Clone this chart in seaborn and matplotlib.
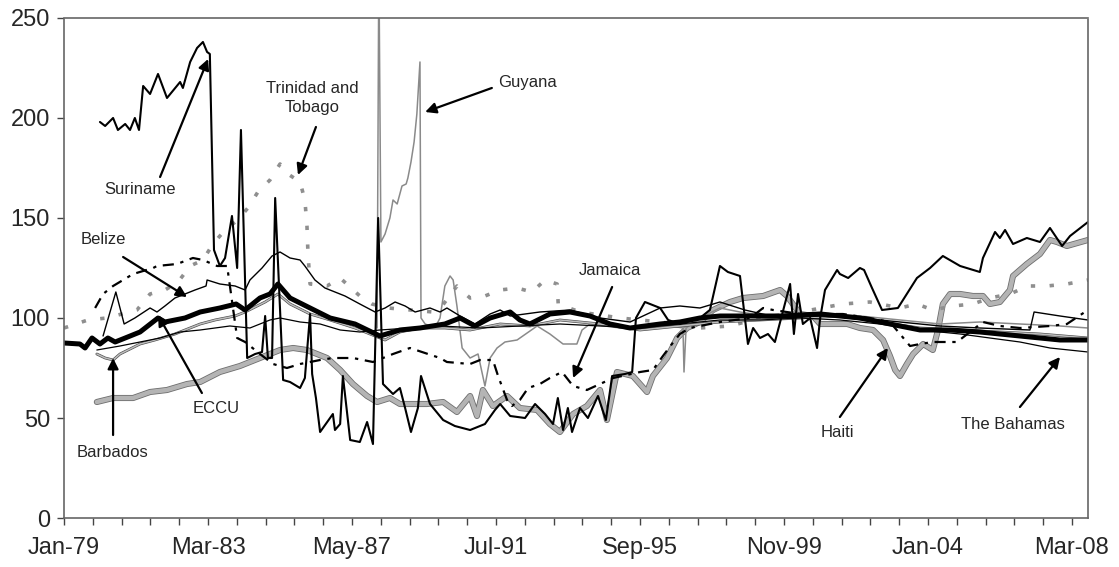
import numpy as np
import pandas as pd
import matplotlib
matplotlib.use('Agg')
import matplotlib.pyplot as plt
import matplotlib.patheffects as pe
import seaborn as sns

# ======================
# podaci (ocitano sa slike), x = godina (decimalno), y = indeks
# ======================
eccu_x = [1979.00, 1979.46, 1979.61, 1979.81, 1980.04, 1980.27, 1980.48, 1980.77, 1981.20, 1981.72,
          1981.92, 1982.50, 1982.94, 1983.51, 1983.98, 1984.24, 1984.67, 1984.96, 1985.19, 1985.54,
          1986.12, 1986.70, 1987.42, 1988.14, 1988.72, 1989.30, 1990.02, 1990.46, 1990.89, 1991.33,
          1991.91, 1992.19, 1992.48, 1993.06, 1993.64, 1994.22, 1994.80, 1995.38, 1996.25, 1996.82,
          1997.40, 1997.98, 1998.85, 1999.72, 2000.88, 2002.03, 2002.90, 2003.77, 2004.64, 2005.50,
          2006.66, 2007.82, 2008.63]
eccu_y = [87.5, 87, 85, 90, 87, 90, 88, 90, 93, 100,
          98, 100, 103, 105, 107, 104, 110, 112, 117, 110,
          105, 100, 97, 91, 94, 95, 97, 100, 96, 100,
          103, 99, 97, 102, 103, 101, 97, 95, 97, 98,
          100, 101, 101, 101, 102, 100, 97, 94, 94, 93,
          91, 89, 89]

suriname_x = [1980.04, 1980.19, 1980.42, 1980.56, 1980.77, 1980.91, 1981.05, 1981.17, 1981.29, 1981.49,
              1981.72, 1981.98, 1982.36, 1982.44, 1982.65, 1982.85, 1983.02, 1983.14, 1983.22, 1983.34,
              1983.51, 1983.66, 1983.86, 1984.01, 1984.12, 1984.30, 1984.53, 1984.73, 1984.82, 1984.90,
              1985.02, 1985.11, 1985.34, 1985.54, 1985.83, 1985.97, 1986.12, 1986.18, 1986.29, 1986.41,
              1986.78, 1986.84, 1986.99, 1987.07, 1987.28, 1987.56, 1987.77, 1987.94, 1988.09, 1988.23,
              1988.52, 1988.72, 1988.87, 1989.04, 1989.24, 1989.33, 1989.59, 1989.97, 1990.31, 1990.75,
              1991.18, 1991.47, 1991.62, 1991.91, 1992.34, 1992.63, 1992.92, 1993.15, 1993.29, 1993.44,
              1993.58, 1993.70, 1993.93, 1994.16, 1994.45, 1994.68, 1994.86, 1995.23, 1995.44, 1995.55,
              1995.81, 1996.25, 1996.48, 1996.82, 1997.40, 1997.69, 1997.98, 1998.21, 1998.56, 1998.79,
              1998.94, 1999.14, 1999.37, 1999.57, 2000.01, 2000.12, 2000.24, 2000.38, 2000.59, 2000.79,
              2000.88, 2001.02, 2001.37, 2001.45, 2001.69, 2002.03, 2002.15, 2002.38, 2002.67, 2003.13,
              2003.68, 2004.06, 2004.43, 2004.93, 2005.50, 2005.59, 2005.94, 2006.08, 2006.23, 2006.46,
              2006.86, 2007.24, 2007.53, 2007.88, 2008.11, 2008.63]
suriname_y = [198, 196, 200, 194, 197, 194, 200, 194, 216, 212,
              222, 210, 218, 215, 228, 235, 238, 233, 232, 134,
              126, 130, 151, 125, 194, 80, 82, 83, 101, 80,
              80, 160, 69, 68, 65, 70, 102, 72, 60, 43,
              52, 44, 47, 71, 39, 38, 48, 37, 150, 67,
              62, 65, 55, 43, 55, 71, 57, 49, 46, 44,
              47, 54, 57, 51, 50, 57, 52, 47, 60, 44,
              55, 43, 55, 50, 61, 49, 71, 72, 73, 100,
              108, 105, 99, 97, 100, 104, 126, 123, 121, 87,
              95, 90, 92, 88, 117, 92, 112, 97, 100, 85,
              100, 114, 124, 122, 120, 125, 124, 115, 104, 105,
              120, 125, 131, 126, 123, 130, 143, 140, 144, 137,
              140, 138, 145, 136, 141, 148]

belize_x = [1980.13, 1980.50, 1980.74, 1981.05, 1981.49, 1981.69, 1981.92, 1982.21, 1982.50, 1982.79,
            1983.11, 1983.14, 1983.51, 1983.95, 1984.24, 1984.38, 1984.73, 1985.02, 1985.25, 1985.54,
            1985.83, 1985.97, 1986.26, 1986.55, 1987.13, 1987.56, 1988.00, 1988.29, 1988.58, 1988.87,
            1989.16, 1989.59, 1989.88, 1990.08, 1990.46, 1990.89, 1991.33, 1991.62, 1991.91, 1992.77,
            1993.64, 1994.51, 1995.38, 1996.25, 1996.82, 1997.40, 1997.98, 1998.70, 1999.72, 2000.88,
            2002.03, 2003.19, 2004.35, 2005.50, 2006.95, 2007.07, 2007.82, 2008.63]
belize_y = [91, 113, 97, 100, 105, 103, 106, 110, 112, 114,
            116, 119, 117, 116, 114, 119, 125, 131, 133, 130,
            129, 126, 119, 115, 111, 107, 103, 105, 108, 106,
            103, 105, 103, 105, 101, 97, 102, 104, 101, 103,
            104, 100, 98, 105, 106, 105, 108, 104, 100, 101,
            100, 98, 96, 95, 94, 103, 101, 99]

bahamas_x = [1979.95, 1980.62, 1981.20, 1981.78, 1982.36, 1982.94, 1983.80, 1984.38, 1984.96, 1985.25,
             1985.83, 1986.41, 1986.99, 1987.56, 1988.14, 1989.01, 1989.88, 1991.04, 1992.19, 1993.35,
             1994.51, 1995.67, 1996.82, 1997.98, 1999.14, 2000.30, 2001.45, 2002.61, 2003.77, 2004.93,
             2005.79, 2006.66, 2007.53, 2008.63]
bahamas_y = [84, 86, 88, 90, 93, 94, 96, 95, 99, 100,
             98, 97, 94, 93, 94, 95, 96, 95, 96, 97,
             96, 95, 97, 99, 99, 100, 99, 97, 94, 92,
             90, 88, 85, 83]

barbados_x = [1979.95, 1980.19, 1980.42, 1980.62, 1981.20, 1981.63, 1982.21, 1982.94, 1983.37, 1983.95,
              1984.24, 1984.82, 1985.19, 1985.54, 1986.12, 1986.70, 1987.42, 1988.00, 1988.29, 1988.72,
              1989.30, 1990.02, 1990.75, 1991.62, 1992.48, 1993.35, 1994.51, 1995.67, 1996.82, 1997.98,
              1999.14, 2000.30, 2001.45, 2002.61, 2003.77, 2004.93, 2006.08, 2007.24, 2008.63]
barbados_y = [82, 80, 79, 82, 87, 89, 92, 97, 99, 101,
              103, 108, 112, 107, 102, 99, 95, 91, 89, 93,
              95, 95, 94, 97, 96, 99, 97, 94, 96, 98,
              99, 100, 101, 98, 95, 94, 93, 92, 90]

trinidad_x = [1979.00, 1979.69, 1980.24, 1981.11, 1981.49, 1981.92, 1982.30, 1982.65, 1983.02, 1983.31,
              1983.66, 1984.03, 1984.32, 1984.61, 1984.96, 1985.25, 1985.48, 1985.83, 1985.97, 1986.03,
              1986.06, 1986.12, 1986.61, 1986.99, 1987.56, 1987.91, 1988.38, 1989.68, 1989.94, 1990.37,
              1990.75, 1991.18, 1991.62, 1992.11, 1992.54, 1992.92, 1993.27, 1993.30, 1993.93, 1995.09,
              1996.25, 1997.40, 1998.27, 1999.14, 2000.30, 2001.54, 2002.32, 2003.19, 2003.68, 2004.14,
              2004.72, 2005.30, 2005.79, 2006.37, 2006.89, 2007.44, 2008.02, 2008.63]
trinidad_y = [95, 99, 100, 104, 112, 114, 118, 126, 129, 137,
              144, 149, 155, 163, 169, 177, 172, 168, 159, 146,
              132, 117, 116, 120, 111, 107, 105, 103, 106, 116,
              110, 111, 114, 115, 113, 119, 117, 107, 103, 100,
              98, 95, 96, 100, 103, 107, 108, 105, 107, 104,
              106, 107, 110, 112, 116, 116, 117, 119]

jamaica_x = [1979.90, 1980.13, 1980.42, 1981.00, 1981.58, 1981.69, 1982.27, 1982.73, 1983.02, 1983.43,
             1983.72, 1984.01, 1984.24, 1984.67, 1985.05, 1985.45, 1985.83, 1986.41, 1986.78, 1987.36,
             1987.94, 1988.52, 1989.01, 1989.88, 1990.08, 1990.75, 1991.04, 1991.41, 1991.56, 1991.82,
             1991.96, 1992.19, 1992.43, 1992.77, 1993.06, 1993.41, 1993.73, 1994.13, 1994.89, 1995.67,
             1996.04, 1996.33, 1996.59, 1996.82, 1997.11, 1997.98, 1998.85, 1999.23, 1999.52, 2000.30,
             2001.54, 2002.32, 2002.90, 2003.19, 2003.48, 2003.77, 2004.14, 2004.84, 2005.59, 2006.08,
             2006.66, 2007.53, 2008.02, 2008.54]
jamaica_y = [105, 112, 116, 122, 125, 126, 127, 130, 129, 126,
             126, 90, 88, 82, 77, 75, 77, 79, 80, 80,
             78, 82, 85, 80, 78, 77, 79, 79, 71, 59,
             56, 59, 65, 67, 70, 73, 66, 64, 70, 73,
             74, 81, 87, 92, 95, 98, 100, 105, 104, 102,
             102, 100, 98, 92, 86, 87, 88, 88, 98, 96,
             95, 96, 97, 103]

haiti_x = [1979.95, 1980.42, 1981.00, 1981.49, 1981.98, 1982.56, 1982.94, 1983.51, 1984.09, 1984.67,
           1985.25, 1985.63, 1986.03, 1986.61, 1986.99, 1987.36, 1987.77, 1988.06, 1988.43, 1988.72,
           1989.50, 1989.97, 1990.37, 1990.75, 1990.95, 1991.12, 1991.41, 1991.82, 1992.19, 1992.69,
           1993.06, 1993.35, 1993.73, 1994.13, 1994.51, 1994.71, 1995.00, 1995.46, 1995.87, 1996.04,
           1996.45, 1996.74, 1997.03, 1997.40, 1997.78, 1998.27, 1998.65, 1999.23, 1999.72, 1999.92,
           2000.30, 2000.67, 2000.88, 2001.66, 2002.03, 2002.41, 2002.70, 2002.90, 2003.05, 2003.19,
           2003.39, 2003.57, 2003.86, 2004.14, 2004.29, 2004.43, 2004.64, 2004.93, 2005.30, 2005.59,
           2005.79, 2006.08, 2006.37, 2006.46, 2006.86, 2007.24, 2007.53, 2007.73, 2008.02, 2008.63]
haiti_y = [58, 60, 60, 63, 64, 67, 68, 73, 76, 80,
           84, 85, 84, 80, 74, 67, 61, 58, 60, 57,
           57, 58, 53, 61, 51, 64, 56, 61, 55, 54,
           47, 43, 52, 56, 64, 49, 73, 71, 63, 71,
           80, 90, 95, 98, 104, 108, 110, 111, 114, 111,
           102, 101, 97, 97, 95, 94, 89, 81, 74, 71,
           77, 82, 87, 84, 94, 107, 112, 112, 111, 111,
           107, 108, 114, 121, 127, 132, 139, 138, 136, 139]

guyana_x = [1988.06, 1988.11, 1988.17, 1988.29, 1988.43, 1988.52, 1988.64, 1988.78, 1988.90, 1988.95,
            1989.04, 1989.13, 1989.21, 1989.30, 1989.33, 1989.45, 1989.73, 1989.88, 1990.02, 1990.17,
            1990.26, 1990.37, 1990.52, 1990.75, 1990.98, 1991.18, 1991.33, 1991.53, 1991.76, 1992.11,
            1992.69, 1993.06, 1993.44, 1993.84, 1993.99, 1994.22, 1995.09, 1996.25, 1996.91, 1996.94,
            1997.00, 1997.40, 1997.98, 1998.56, 1999.72, 2000.88, 2002.03, 2003.19, 2004.35, 2005.50,
            2006.66, 2007.82, 2008.63]
guyana_y = [95, 280, 138, 142, 150, 159, 157, 166, 167, 170,
            178, 188, 202, 228, 100, 97, 95, 100, 116, 121,
            119, 106, 85, 80, 82, 66, 80, 85, 88, 89,
            96, 92, 87, 87, 94, 97, 95, 97, 95, 73,
            95, 100, 105, 103, 100, 102, 101, 99, 97, 98,
            97, 96, 95]

# oznake na x osi: svakih 10 meseci, natpis na svakom petom
x_ticks = [1979 + k * 10 / 12 for k in range(36)]
x_tick_labels = ['Jan-79', 'Mar-83', 'May-87', 'Jul-91', 'Sep-95', 'Nov-99', 'Jan-04', 'Mar-08']

# ======================
# crtanje
# ======================
sns.set_style('white')
plt.rcParams['font.family'] = ['Liberation Sans', 'DejaVu Sans']

fig = plt.figure(figsize=(11.19, 5.67), dpi=100)
ax = fig.add_axes([0.0572, 0.0864, 0.9151, 0.8819])

# tamna ivica za sive "dvostruke" linije kao na skeniranom grafiku
ivica = [pe.Stroke(linewidth=4.4, foreground='#6e6e6e'), pe.Normal()]
ivica_tanka = [pe.Stroke(linewidth=2.0, foreground='#4a4a4a'), pe.Normal()]

serije = [
    (haiti_x, haiti_y, dict(color='#b4b4b4', lw=3.2, linestyle='-', path_effects=ivica)),
    (trinidad_x, trinidad_y, dict(color='#8f8f8f', lw=2.6, linestyle=(0, (1.2, 4.0)))),
    (guyana_x, guyana_y, dict(color='#8a8a8a', lw=1.1, linestyle='-')),
    (barbados_x, barbados_y, dict(color='#bdbdbd', lw=1.1, linestyle='-', path_effects=ivica_tanka)),
    (bahamas_x, bahamas_y, dict(color='black', lw=0.9, linestyle='-')),
    (belize_x, belize_y, dict(color='black', lw=1.0, linestyle='-')),
    (jamaica_x, jamaica_y, dict(color='black', lw=1.6, linestyle=(0, (5, 3, 1.5, 3)))),
    (suriname_x, suriname_y, dict(color='black', lw=1.5, linestyle='-')),
    (eccu_x, eccu_y, dict(color='black', lw=3.6, linestyle='-')),
]
for xs, ys, st in serije:
    sns.lineplot(x=xs, y=ys, ax=ax, sort=False, estimator=None, **st)

ax.set_xlim(1979, 2008.63)
ax.set_ylim(0, 250)
ax.set_yticks([0, 50, 100, 150, 200, 250])
ax.set_xticks(x_ticks)
lbls = []
for k in range(36):
    lbls.append(x_tick_labels[k // 5] if k % 5 == 0 else '')
ax.set_xticklabels(lbls)
ax.tick_params(axis='both', labelsize=17, direction='out', length=5, width=1, color='#444')
ax.tick_params(axis='x', pad=9)
ax.tick_params(axis='y', pad=5)
ax.xaxis.set_ticks_position('bottom')
ax.yaxis.set_ticks_position('left')

for sp in ax.spines.values():
    sp.set_visible(True)
    sp.set_color('#666666')
    sp.set_linewidth(1.2)
    sp.set_linestyle((0, (1, 1)))

# natpisi sa strelicama
natpisi = [
    ('Suriname', (1981.20, 164), (1981.78, 170.5), (1983.17, 229.5)),
    ('Trinidad and\nTobago', (1986.18, 210), (1986.29, 195.5), (1985.77, 171.5)),
    ('Belize', (1980.13, 139), (1980.71, 130.5), (1982.56, 110.5)),
    ('ECCU', (1983.40, 55), (1982.99, 62.5), (1981.72, 101.5)),
    ('Barbados', (1980.39, 33), (1980.42, 41.5), (1980.42, 80)),
    ('Guyana', (1992.40, 217.5), (1991.38, 215), (1989.45, 203)),
    ('Jamaica', (1994.80, 123.5), (1994.86, 115.5), (1993.73, 70)),
    ('Haiti', (2001.37, 43), (2001.45, 50.5), (2002.84, 85)),
    ('The Bahamas', (2006.46, 47), (2006.66, 55.5), (2007.82, 80.5)),
]
for tekst, poz, start, vrh in natpisi:
    ax.text(poz[0], poz[1], tekst, ha='center', va='center', fontsize=12, linespacing=1.3)
    ax.annotate('', xy=vrh, xytext=start,
                arrowprops=dict(arrowstyle='-|>', color='black', lw=1.6, mutation_scale=16,
                                shrinkA=0, shrinkB=0))

plt.savefig('out.png', dpi=100)
